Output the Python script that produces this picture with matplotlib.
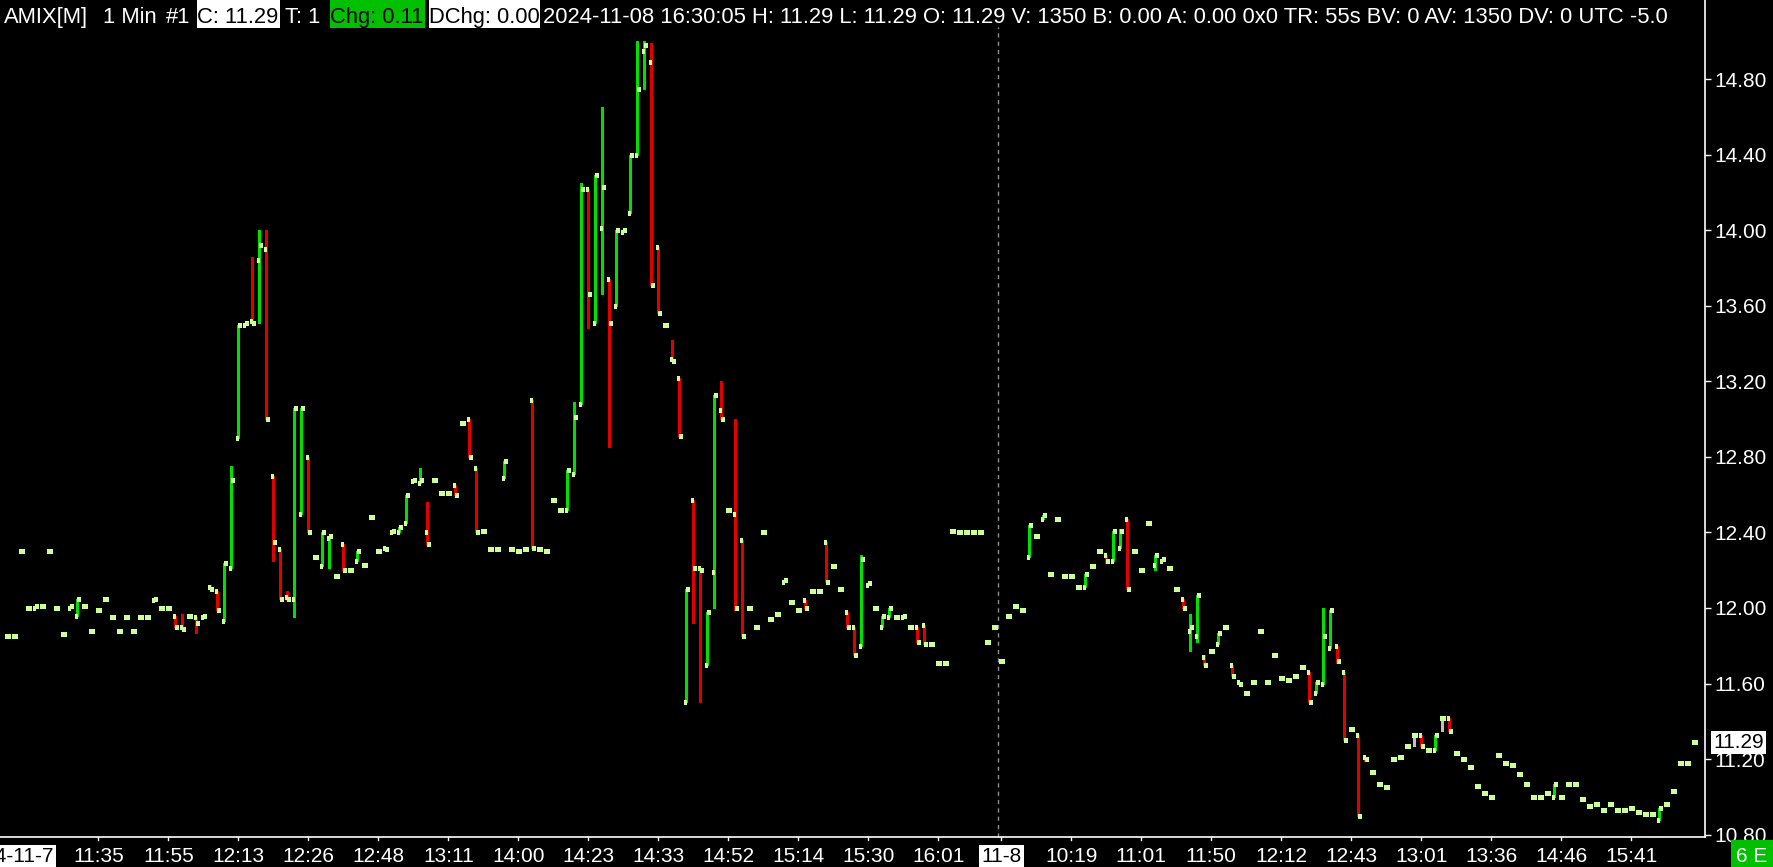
import numpy as np
import matplotlib
matplotlib.use('Agg')
import matplotlib.pyplot as plt
from matplotlib.collections import LineCollection
from matplotlib.patches import Rectangle
from matplotlib.transforms import blended_transform_factory

plt.rcParams['font.family'] = ['Liberation Sans', 'DejaVu Sans']

# ---- data: 1 minute bars of AMIX (bar index = position on the chart) ----
opens = [
    11.85, 11.85, 12.30, 12.00, 12.00, 12.01, 12.30, 12.00, 11.86, 12.00,  # 0
    11.96, 12.01, 11.88, 11.99, 12.05, 11.95, 11.88, 11.95, 11.88, 11.95,  # 10
    11.95, 12.04, 12.00, 12.00, 11.96, 11.90, 11.96, 11.95, 11.95, 12.11,  # 20
    12.09, 11.93, 12.21, 12.90, 13.50, 13.52, 13.84, 13.90, 12.70, 12.31,  # 30
    12.06, 12.05, 12.50, 12.80, 12.27, 12.22, 12.37, 12.17, 12.34, 12.20,  # 40
    12.25, 12.23, 12.48, 12.30, 12.32, 12.40, 12.40, 12.45, 12.67, 12.66,  # 50
    12.40, 12.68, 12.61, 12.61, 12.65, 12.98, 13.00, 12.74, 12.41, 12.31,  # 60
    12.31, 12.69, 12.31, 12.30, 12.31, 13.10, 12.31, 12.30, 12.57, 12.52,  # 70
    12.52, 12.71, 13.08, 14.22, 13.51, 14.01, 13.74, 13.60, 13.99, 14.09,  # 80
    14.40, 14.95, 14.89, 13.91, 13.50, 13.32, 13.22, 11.50, 12.57, 12.21,  # 90
    11.70, 12.19, 13.05, 12.52, 12.50, 12.36, 12.00, 11.90, 12.40, 11.94,  # 100
    11.97, 12.14, 12.03, 11.99, 12.04, 12.09, 12.09, 12.35, 12.22, 12.10,  # 110
    11.98, 11.90, 11.80, 12.12, 12.00, 11.90, 11.95, 11.95, 11.95, 11.90,  # 120
    11.90, 11.91, 11.81, 11.71, 11.71, 12.41, 12.40, 12.40, 12.40, 12.40,  # 130
    11.82, 11.90, 11.72, 11.96, 12.01, 11.99, 12.27, 12.38, 12.47, 12.18,  # 140
    12.47, 12.17, 12.17, 12.11, 12.11, 12.22, 12.30, 12.28, 12.25, 12.32,  # 150
    12.47, 12.30, 12.20, 12.45, 12.23, 12.25, 12.21, 12.10, 12.05, 11.88,  # 160
    11.85, 11.74, 11.77, 11.81, 11.90, 11.70, 11.61, 11.55, 11.61, 11.88,  # 170
    11.61, 11.75, 11.63, 11.62, 11.64, 11.69, 11.66, 11.55, 11.60, 11.79,  # 180
    11.80, 11.66, 11.36, 11.33, 11.21, 11.13, 11.07, 11.05, 11.20, 11.21,  # 190
    11.27, 11.33, 11.33, 11.25, 11.25, 11.42, 11.42, 11.23, 11.20, 11.16,  # 200
    11.06, 11.02, 11.00, 11.22, 11.18, 11.17, 11.12, 11.07, 11.00, 11.00,  # 210
    11.02, 11.00, 11.00, 11.07, 11.07, 10.99, 10.95, 10.96, 10.93, 10.96,  # 220
    10.93, 10.93, 10.94, 10.92, 10.91, 10.91, 10.88, 10.96, 11.03, 11.18,  # 230
    11.18, 11.29,                                                          # 240
]
highs = [
    11.85, 11.85, 12.30, 12.00, 12.01, 12.01, 12.30, 12.00, 11.86, 12.01,
    12.05, 12.01, 11.88, 11.99, 12.05, 11.95, 11.88, 11.95, 11.88, 11.95,
    11.95, 12.05, 12.00, 12.00, 11.96, 11.97, 11.96, 11.95, 11.96, 12.12,
    12.09, 12.24, 12.75, 13.50, 13.51, 13.86, 14.00, 14.00, 12.70, 12.31,
    12.09, 13.06, 13.06, 12.80, 12.27, 12.40, 12.38, 12.17, 12.34, 12.20,
    12.30, 12.23, 12.48, 12.30, 12.32, 12.41, 12.43, 12.60, 12.68, 12.74,
    12.56, 12.68, 12.61, 12.61, 12.65, 12.98, 13.00, 12.74, 12.41, 12.31,
    12.31, 12.78, 12.31, 12.30, 12.31, 13.10, 12.31, 12.30, 12.57, 12.52,
    12.73, 13.09, 14.25, 14.22, 14.29, 14.65, 13.74, 14.00, 14.00, 14.40,
    15.00, 15.00, 14.99, 13.91, 13.50, 13.42, 13.22, 12.10, 12.57, 12.21,
    11.98, 13.13, 13.20, 12.52, 13.00, 12.36, 12.00, 11.90, 12.40, 11.94,
    11.97, 12.15, 12.03, 11.99, 12.04, 12.09, 12.09, 12.35, 12.22, 12.10,
    11.98, 11.90, 12.28, 12.13, 12.00, 11.96, 12.00, 11.95, 11.96, 11.90,
    11.90, 11.91, 11.81, 11.71, 11.71, 12.41, 12.40, 12.40, 12.40, 12.40,
    11.82, 11.90, 11.72, 11.96, 12.01, 11.99, 12.44, 12.38, 12.49, 12.18,
    12.47, 12.17, 12.17, 12.11, 12.18, 12.22, 12.30, 12.28, 12.41, 12.42,
    12.47, 12.30, 12.20, 12.45, 12.28, 12.26, 12.21, 12.10, 12.05, 11.97,
    12.07, 11.75, 11.77, 11.87, 11.90, 11.70, 11.61, 11.55, 11.61, 11.88,
    11.61, 11.75, 11.63, 11.62, 11.64, 11.69, 11.66, 11.61, 12.00, 11.99,
    11.80, 11.66, 11.36, 11.33, 11.21, 11.13, 11.07, 11.05, 11.20, 11.21,
    11.27, 11.33, 11.33, 11.25, 11.33, 11.42, 11.42, 11.23, 11.20, 11.16,
    11.06, 11.02, 11.00, 11.22, 11.18, 11.17, 11.12, 11.07, 11.00, 11.00,
    11.02, 11.07, 11.00, 11.07, 11.07, 10.99, 10.95, 10.96, 10.93, 10.96,
    10.93, 10.93, 10.94, 10.92, 10.91, 10.91, 10.94, 10.96, 11.03, 11.18,
    11.18, 11.29,
]
lows = [
    11.85, 11.85, 12.30, 12.00, 12.00, 12.01, 12.30, 12.00, 11.86, 12.00,
    11.96, 12.01, 11.88, 11.99, 12.05, 11.95, 11.88, 11.95, 11.88, 11.95,
    11.95, 12.04, 12.00, 12.00, 11.90, 11.89, 11.96, 11.87, 11.95, 12.10,
    11.99, 11.93, 12.21, 12.90, 13.50, 13.51, 13.51, 13.00, 12.25, 12.05,
    12.04, 11.95, 12.50, 12.40, 12.27, 12.22, 12.21, 12.17, 12.20, 12.20,
    12.25, 12.23, 12.48, 12.30, 12.31, 12.40, 12.40, 12.45, 12.67, 12.66,
    12.34, 12.68, 12.61, 12.61, 12.60, 12.98, 12.80, 12.40, 12.41, 12.31,
    12.31, 12.69, 12.31, 12.30, 12.31, 12.32, 12.31, 12.30, 12.57, 12.52,
    12.52, 12.71, 13.08, 13.48, 13.51, 13.66, 12.85, 13.60, 13.99, 14.09,
    14.40, 14.75, 13.71, 13.56, 13.50, 13.31, 12.91, 11.50, 11.92, 11.50,
    11.70, 12.00, 13.00, 12.52, 11.99, 11.85, 12.00, 11.90, 12.40, 11.94,
    11.97, 12.14, 12.03, 11.99, 12.00, 12.09, 12.09, 12.14, 12.22, 12.10,
    11.90, 11.75, 11.80, 12.12, 12.00, 11.90, 11.95, 11.95, 11.95, 11.90,
    11.82, 11.81, 11.81, 11.71, 11.71, 12.41, 12.40, 12.40, 12.40, 12.40,
    11.82, 11.90, 11.72, 11.96, 12.01, 11.99, 12.27, 12.38, 12.47, 12.18,
    12.47, 12.17, 12.17, 12.11, 12.11, 12.22, 12.30, 12.24, 12.25, 12.32,
    12.10, 12.30, 12.20, 12.45, 12.20, 12.25, 12.21, 12.10, 12.00, 11.77,
    11.82, 11.70, 11.77, 11.81, 11.90, 11.64, 11.60, 11.55, 11.61, 11.88,
    11.61, 11.75, 11.63, 11.62, 11.64, 11.69, 11.50, 11.55, 11.60, 11.79,
    11.71, 11.30, 11.36, 10.90, 11.19, 11.13, 11.07, 11.05, 11.20, 11.21,
    11.27, 11.27, 11.27, 11.25, 11.25, 11.35, 11.35, 11.23, 11.20, 11.16,
    11.06, 11.02, 11.00, 11.22, 11.18, 11.17, 11.12, 11.07, 11.00, 11.00,
    11.02, 11.00, 11.00, 11.07, 11.07, 10.99, 10.95, 10.96, 10.93, 10.96,
    10.93, 10.93, 10.94, 10.92, 10.91, 10.91, 10.88, 10.96, 11.03, 11.18,
    11.18, 11.29,
]
closes = [
    11.85, 11.85, 12.30, 12.00, 12.01, 12.01, 12.30, 12.00, 11.86, 12.01,
    12.05, 12.01, 11.88, 11.99, 12.05, 11.95, 11.88, 11.95, 11.88, 11.95,
    11.95, 12.05, 12.00, 12.00, 11.90, 11.89, 11.96, 11.92, 11.96, 12.10,
    11.99, 12.24, 12.68, 13.50, 13.51, 13.51, 13.92, 13.00, 12.35, 12.05,
    12.05, 13.06, 13.06, 12.40, 12.27, 12.40, 12.38, 12.17, 12.20, 12.20,
    12.30, 12.23, 12.48, 12.30, 12.31, 12.41, 12.43, 12.60, 12.68, 12.68,
    12.34, 12.68, 12.61, 12.61, 12.60, 12.98, 12.80, 12.40, 12.41, 12.31,
    12.31, 12.78, 12.31, 12.30, 12.31, 12.32, 12.31, 12.30, 12.57, 12.52,
    12.73, 13.01, 14.22, 13.66, 14.29, 14.23, 13.51, 14.00, 14.00, 14.40,
    14.75, 14.98, 13.71, 13.56, 13.50, 13.31, 12.91, 12.10, 12.21, 12.20,
    11.98, 13.13, 13.00, 12.52, 12.00, 11.85, 12.00, 11.90, 12.40, 11.94,
    11.97, 12.15, 12.03, 11.99, 12.00, 12.09, 12.09, 12.14, 12.22, 12.10,
    11.90, 11.75, 12.26, 12.13, 12.00, 11.96, 12.00, 11.95, 11.96, 11.90,
    11.82, 11.81, 11.81, 11.71, 11.71, 12.41, 12.40, 12.40, 12.40, 12.40,
    11.82, 11.90, 11.72, 11.96, 12.01, 11.99, 12.44, 12.38, 12.49, 12.18,
    12.47, 12.17, 12.17, 12.11, 12.18, 12.22, 12.30, 12.25, 12.41, 12.41,
    12.10, 12.30, 12.20, 12.45, 12.28, 12.26, 12.21, 12.10, 12.00, 11.90,
    12.07, 11.70, 11.77, 11.87, 11.90, 11.64, 11.60, 11.55, 11.61, 11.88,
    11.61, 11.75, 11.63, 11.62, 11.64, 11.69, 11.50, 11.61, 11.85, 11.99,
    11.72, 11.30, 11.36, 10.90, 11.20, 11.13, 11.07, 11.05, 11.20, 11.21,
    11.27, 11.33, 11.27, 11.25, 11.33, 11.42, 11.35, 11.23, 11.20, 11.16,
    11.06, 11.02, 11.00, 11.22, 11.18, 11.17, 11.12, 11.07, 11.00, 11.00,
    11.02, 11.07, 11.00, 11.07, 11.07, 10.99, 10.95, 10.96, 10.93, 10.96,
    10.93, 10.93, 10.94, 10.92, 10.91, 10.91, 10.94, 10.96, 11.03, 11.18,
    11.18, 11.29,
]

# time axis labels: (bar index, label)
time_ticks = [13, 23, 33, 43, 53, 63, 73, 83, 93, 103, 113, 123, 133,
              152, 162, 172, 182, 192, 202, 212, 222, 232]
time_labels = ['11:35', '11:55', '12:13', '12:26', '12:48', '13:11', '14:00',
               '14:23', '14:33', '14:52', '15:14', '15:30', '16:01',
               '10:19', '11:01', '11:50', '12:12', '12:43', '13:01', '13:36',
               '14:46', '15:41']
day_break = 141.5
day2_start = 142
price_ticks = [10.80, 11.20, 11.60, 12.00, 12.40, 12.80, 13.20, 13.60, 14.00, 14.40, 14.80]
last_price = 11.29

# ---- layout (pixels) ----
W, H = 1774, 867
PL, PR, PT, PB = 0, 1705, 27, 837
BAR_PX = 7.0
BAR0_PX = 7.3
PX_PER_UNIT = 188.9
Y12_PX = 608

UP = '#00e000'
DOWN = '#e00000'
TICKC = '#ccff99'
HDR_FS = 15.85

fig = plt.figure(figsize=(W / 100, H / 100), dpi=100, facecolor='black')
ax = fig.add_axes([PL / W, 1 - PB / H, (PR - PL) / W, (PB - PT) / H])
ax.set_facecolor('black')
ax.set_xlim((PL - BAR0_PX) / BAR_PX, (PR - BAR0_PX) / BAR_PX)
ax.set_ylim(12 - (PB - Y12_PX) / PX_PER_UNIT, 12 + (Y12_PX - PT) / PX_PER_UNIT)

o = np.array(opens); hi = np.array(highs); lo = np.array(lows); c = np.array(closes)
idx = np.arange(len(c))

wick_segs, wick_cols = [], []
for i in idx:
    if hi[i] > lo[i]:
        wick_segs.append([(i, lo[i]), (i, hi[i])])
        if c[i] > o[i]:
            wick_cols.append(UP)
        elif c[i] < o[i]:
            wick_cols.append(DOWN)
        else:
            wick_cols.append('#c0c0c0')
ax.add_collection(LineCollection(wick_segs, colors=wick_cols, linewidths=0.9,
                                 antialiased=False, zorder=2))

hw = 2.4 / BAR_PX
open_segs = [[(i - hw, o[i]), (i, o[i])] for i in idx]
close_segs = [[(i, c[i]), (i + hw, c[i])] for i in idx]
ax.add_collection(LineCollection(open_segs + close_segs, colors=TICKC, linewidths=2.2,
                                 antialiased=False, capstyle='butt', zorder=3))

# day separator
ax.axvline(day_break, color='#909090', lw=1, ls=(0, (3, 3)), zorder=1)

for s in ax.spines.values():
    s.set_visible(False)

# price axis on the right
ax.yaxis.tick_right()
ax.set_yticks(price_ticks)
ax.set_yticklabels([f'{p:.2f}' for p in price_ticks])
ax.tick_params(axis='y', colors='white', labelcolor='white', length=4, width=1,
               labelsize=15, pad=3)
ax.set_xticks([])

# axis lines
fig.add_artist(plt.Line2D([PR / W, PR / W], [1 - PB / H, 1.0], color='white', lw=1.2,
                          transform=fig.transFigure))
fig.add_artist(plt.Line2D([0, PR / W], [1 - PB / H, 1 - PB / H], color='white', lw=1.2,
                          transform=fig.transFigure))

# time labels
bt = blended_transform_factory(ax.transData, fig.transFigure)
base_y = 1 - 862 / H
for t, lab in zip(time_ticks, time_labels):
    fig.add_artist(plt.Line2D([t, t], [1 - PB / H, 1 - (PB + 3) / H], color='white', lw=1,
                              transform=bt))
    fig.text(t, base_y, lab, transform=bt, ha='center', va='baseline', color='white',
             fontsize=15)
fig.add_artist(plt.Line2D([day2_start] * 2, [1 - PB / H, 1 - (PB + 3) / H], color='white',
                          lw=1, transform=bt))
fig.text(day2_start, base_y, '11-8', transform=bt, ha='center', va='baseline', color='black',
         fontsize=15, bbox=dict(boxstyle='square,pad=0.12', fc='white', ec='none'))
fig.text(54 / W, base_y, '2024-11-7', ha='right', va='baseline', color='black', fontsize=15,
         bbox=dict(boxstyle='square,pad=0.12', fc='white', ec='none'))
fig.patches.append(Rectangle((1731 / W, 0), 43 / W, 27 / H, transform=fig.transFigure,
                             fc='#00c000', ec='none'))
fig.text(1752 / W, base_y, '6 E', ha='center', va='baseline', color='white', fontsize=15)

# last price marker
yt = blended_transform_factory(fig.transFigure, ax.transData)
fig.text((PR + 8) / W, last_price, f'{last_price:.2f}', transform=yt, ha='left',
         va='center', color='black', fontsize=15,
         bbox=dict(boxstyle='square,pad=0.1', fc='white', ec='none'))

# header line
hdr_base = 1 - 23 / H
def header(x, txt, fg='white', bg=None, w=None):
    if bg is not None:
        fig.patches.append(Rectangle((x / W, 1 - 28 / H), w / W, 28 / H,
                                     transform=fig.transFigure, fc=bg, ec='none'))
    fig.text(x / W, hdr_base, txt, ha='left', va='baseline', color=fg, fontsize=HDR_FS)

header(4, 'AMIX[M]')
header(103, '1 Min')
header(166, '#1')
header(197, 'C: 11.29', 'black', 'white', 83)
header(285, 'T: 1')
header(330, 'Chg: 0.11', 'black', '#00c000', 95)
header(429, 'DChg: 0.00', 'black', 'white', 111)
header(543, '2024-11-08 16:30:05 H: 11.29 L: 11.29 O: 11.29 V: 1350 B: 0.00 A: 0.00 '
            '0x0 TR: 55s BV: 0 AV: 1350 DV: 0 UTC -5.0')

fig.savefig('out.png', dpi=100, facecolor='black')
